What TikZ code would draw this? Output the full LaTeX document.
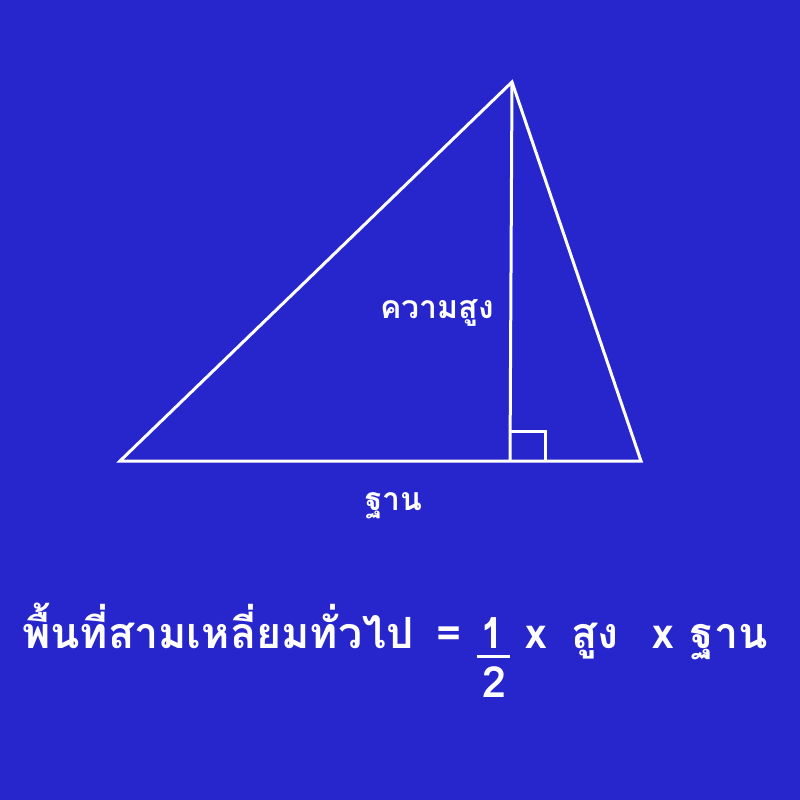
\documentclass[tikz,border=0pt]{standalone}
\usepackage{fontspec}
\newfontfamily\thaifont[Script=Thai]{Loma}
\definecolor{bg}{HTML}{2626CC}
\begin{document}
\begin{tikzpicture}[x=1pt,y=-1pt,
  edge/.style={draw=white,line width=3pt,line join=miter},
  lbl/.style={text=white,font=\thaifont\bfseries\fontsize{32}{36}\selectfont,inner sep=0pt},
  big/.style={text=white,font=\thaifont\bfseries\fontsize{43}{48}\selectfont,inner sep=0pt}]
\fill[bg] (0,0) rectangle (800,800);
\useasboundingbox (0,0) rectangle (800,800);
\coordinate (A) at (120,461);
\coordinate (B) at (512,82);
\coordinate (C) at (641,461);
\coordinate (H) at (510,461);
\coordinate (S1) at (510,431);
\coordinate (S2) at (545,431);
\coordinate (S3) at (545,461);
\draw[edge] (A) -- (B) -- (C) -- cycle;
\draw[edge] (B) -- (H);
\draw[edge] (S1) -- (S2) -- (S3);
\node[lbl,anchor=base east] (h) at (494,318) {ความสูง};
\node[lbl,anchor=base] (b) at (394,510) {ฐาน};
\node[big,anchor=base west] (f1) at (22,648) {พื้นที่สามเหลี่ยมทั่วไป};
\node[big,anchor=base] (eq) at (449,648) {=};
\node[big,anchor=base] (n1) at (492,648) {1};
\node[big,anchor=base] (n2) at (494,697) {2};
\coordinate (L1) at (477,656);
\coordinate (L2) at (510,656);
\draw[draw=white,line width=3pt] (L1) -- (L2);
\node[big,anchor=base] (x1) at (536,648) {x};
\node[big,anchor=base] (s) at (595,648) {สูง};
\node[big,anchor=base] (x2) at (663,648) {x};
\node[big,anchor=base east] (fb) at (768,648) {ฐาน};
\end{tikzpicture}
\end{document}
